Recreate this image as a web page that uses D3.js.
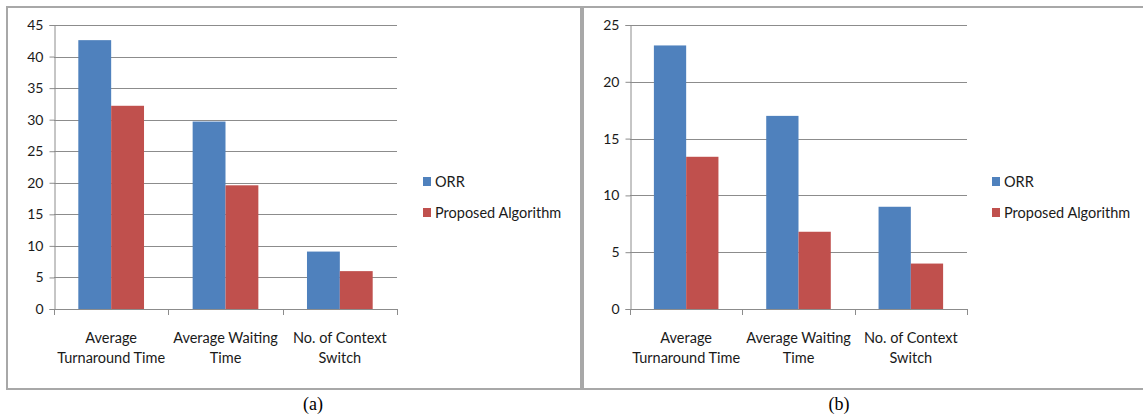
<!DOCTYPE html>
<html>
<head>
<meta charset="utf-8">
<script src="https://cdnjs.cloudflare.com/ajax/libs/d3/7.8.5/d3.min.js"></script>
<style>
  html, body { margin: 0; padding: 0; background: #fff; }
  svg { display: block; }
  text { font-family: Lato, "Open Sans", sans-serif; }
  text.caption { font-family: "Liberation Serif", "Times New Roman", serif; }
</style>
</head>
<body>
<svg id="chart" width="1143" height="417"></svg>
<script>
// Category labels (each split into two lines as shown under the x axis)
const categories = ["Average Turnaround Time", "Average Waiting Time", "No. of Context Switch"];
const categoryLines = [["Average", "Turnaround Time"], ["Average Waiting", "Time"], ["No. of Context", "Switch"]];
const seriesNames = ["ORR", "Proposed Algorithm"];
const seriesColors = ["#4F81BD", "#C0504D"];

// Panel (a)
const orrA = [42.6, 29.7, 9.1];
const proposedA = [32.2, 19.6, 6];
const ticksA = [0, 5, 10, 15, 20, 25, 30, 35, 40, 45];

// Panel (b)
const orrB = [23.2, 17, 9];
const proposedB = [13.4, 6.8, 4];
const ticksB = [0, 5, 10, 15, 20, 25];

const svg = d3.select("#chart");
const gridColor = "#8c8c8c";
const frameColor = "#a8a8a8";
const labelSize = 14.5;

function drawPanel(opts) {
  const { frame, plot, orr, proposed, ticks, caption, legend } = opts;

  // panel frame
  svg.append("rect")
    .attr("x", frame.x).attr("y", frame.y)
    .attr("width", frame.w).attr("height", frame.h)
    .attr("fill", "none").attr("stroke", frameColor).attr("stroke-width", 2);

  const g = svg.append("g");

  const y = d3.scaleLinear()
    .domain([0, d3.max(ticks)])
    .range([plot.bottom, plot.top]);

  const x0 = d3.scaleBand()
    .domain(categories)
    .range([plot.left, plot.right])
    .padding(0);

  const x1 = d3.scaleBand()
    .domain(seriesNames)
    .range([0, x0.bandwidth()])
    .paddingInner(0)
    .paddingOuter(0.74);

  // horizontal gridlines
  g.append("g")
    .selectAll("line")
    .data(ticks.filter(t => t > 0))
    .join("line")
    .attr("x1", plot.left).attr("x2", plot.right)
    .attr("y1", d => Math.round(y(d)) + 0.5)
    .attr("y2", d => Math.round(y(d)) + 0.5)
    .attr("stroke", gridColor).attr("stroke-width", 1);

  // bars
  const series = [orr, proposed];
  categories.forEach((c, i) => {
    seriesNames.forEach((s, j) => {
      g.append("rect")
        .attr("x", x0(c) + x1(s))
        .attr("y", y(series[j][i]))
        .attr("width", x1.bandwidth())
        .attr("height", y(0) - y(series[j][i]))
        .attr("fill", seriesColors[j]);
    });
  });

  // y axis
  const yAxis = d3.axisLeft(y)
    .tickValues(ticks)
    .tickSize(5)
    .tickPadding(6)
    .tickFormat(d3.format("d"));
  const ya = g.append("g")
    .attr("transform", `translate(${plot.left + 0.5},0)`)
    .call(yAxis);
  ya.select(".domain").attr("stroke", gridColor);
  ya.selectAll(".tick line").attr("stroke", gridColor);
  ya.selectAll(".tick text")
    .attr("font-family", null)
    .attr("font-size", 14)
    .attr("fill", "#1a1a1a");

  // x axis baseline with boundary ticks
  const bounds = categories.map(c => x0(c)).concat([plot.right]);
  const xa = g.append("g");
  xa.append("line")
    .attr("x1", plot.left).attr("x2", plot.right)
    .attr("y1", Math.round(y(0)) + 0.5).attr("y2", Math.round(y(0)) + 0.5)
    .attr("stroke", gridColor);
  xa.selectAll("line.bt")
    .data(bounds)
    .join("line")
    .attr("class", "bt")
    .attr("x1", d => Math.round(d) + 0.5).attr("x2", d => Math.round(d) + 0.5)
    .attr("y1", y(0)).attr("y2", y(0) + 6)
    .attr("stroke", gridColor);

  // category labels
  categories.forEach((c, i) => {
    const t = xa.append("text")
      .attr("x", x0(c) + x0.bandwidth() / 2)
      .attr("y", y(0) + 34)
      .attr("text-anchor", "middle")
      .attr("font-size", labelSize)
      .attr("fill", "#1a1a1a");
    categoryLines[i].forEach((line, k) => {
      t.append("tspan")
        .attr("x", x0(c) + x0.bandwidth() / 2)
        .attr("dy", k === 0 ? 0 : 20)
        .text(line);
    });
  });

  // legend
  const lg = svg.append("g").attr("transform", `translate(${legend.x},${legend.y})`);
  seriesNames.forEach((s, j) => {
    const row = lg.append("g").attr("transform", `translate(0,${j * 31})`);
    row.append("rect")
      .attr("x", 0).attr("y", -5)
      .attr("width", 8).attr("height", 9)
      .attr("fill", seriesColors[j]);
    row.append("text")
      .attr("x", 12).attr("y", 5)
      .attr("font-size", labelSize)
      .attr("fill", "#1a1a1a")
      .text(s);
  });

  // caption below panel
  svg.append("text")
    .attr("class", "caption")
    .attr("x", caption.x).attr("y", 410)
    .attr("text-anchor", "middle")
    .attr("font-size", 18)
    .attr("fill", "#000")
    .text(caption.text);
}

svg.append("rect").attr("width", 1143).attr("height", 417).attr("fill", "#fff");

drawPanel({
  frame: { x: 7, y: 7, w: 574, h: 382 },
  plot: { left: 54, right: 397, top: 25, bottom: 309 },
  orr: orrA, proposed: proposedA, ticks: ticksA,
  legend: { x: 423, y: 182 },
  caption: { x: 313, text: "(a)" }
});

drawPanel({
  frame: { x: 583, y: 7, w: 580, h: 382 },
  plot: { left: 630, right: 967, top: 25, bottom: 309 },
  orr: orrB, proposed: proposedB, ticks: ticksB,
  legend: { x: 992, y: 182 },
  caption: { x: 839, text: "(b)" }
});
</script>
</body>
</html>
